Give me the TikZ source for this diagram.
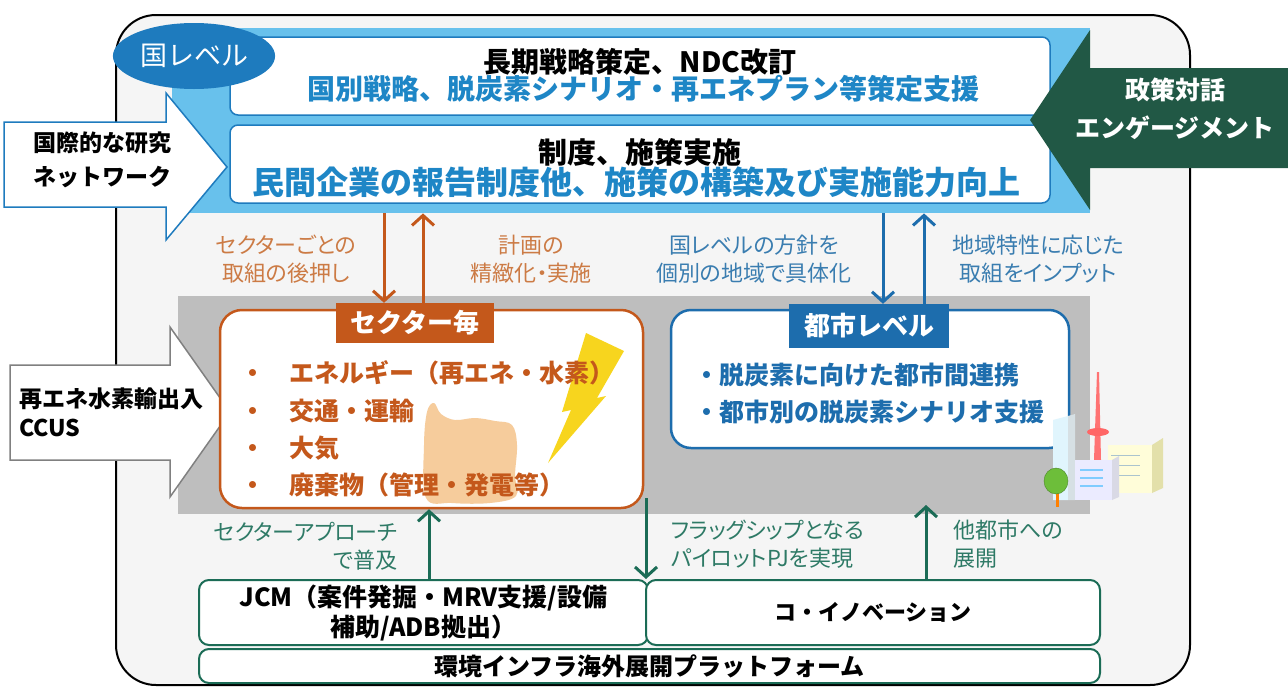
\documentclass[tikz,border=0pt]{standalone}
\usepackage{fontspec}
\setmainfont{Noto Sans CJK JP}
\newfontfamily\lblfont{Noto Sans CJK JP}[RawFeature=+palt]
\usetikzlibrary{arrows.meta,shapes.geometric}

\definecolor{framefill}{HTML}{F5F5F5}
\definecolor{bandblue}{HTML}{68C1EC}
\definecolor{lvlblue}{HTML}{1E7BBE}
\definecolor{txtblue}{HTML}{1E86C6}
\definecolor{cityblue}{HTML}{1D6DAD}
\definecolor{lblblue}{HTML}{3A7DB0}
\definecolor{secorange}{HTML}{C4581B}
\definecolor{lblorange}{HTML}{CC7B45}
\definecolor{dkgreen}{HTML}{215845}
\definecolor{tealgreen}{HTML}{1B6C56}
\definecolor{lblteal}{HTML}{2E7A66}
\definecolor{bandgray}{HTML}{BEBEBE}
\definecolor{smoke}{HTML}{F6CC9C}
\definecolor{bolt}{HTML}{F7D51E}
\definecolor{leaf}{HTML}{6DBE3A}

\newcommand\fsz[2]{\fontsize{#1}{#2}\selectfont}

\tikzset{
  panel/.style={draw=lvlblue, fill=white, line width=1.5pt, rounded corners=8pt},
  tag/.style={text=white, font=\bfseries\fsz{26}{26}, inner sep=0pt},
  lbl/.style={font=\lblfont\fsz{22}{28}, align=center, inner sep=0pt},
  oarr/.style={draw=secorange, line width=3pt, -{Straight Barb[length=10pt,width=22pt]}},
  barr/.style={draw=cityblue, line width=3pt, -{Straight Barb[length=10pt,width=22pt]}},
  garr/.style={draw=tealgreen, line width=3pt, -{Straight Barb[length=10pt,width=22pt]}},
  gbox/.style={draw=tealgreen, fill=white, line width=2pt, rounded corners=10pt,
               font=\bfseries, inner sep=0pt}
}

\begin{document}
\begin{tikzpicture}[x=1pt,y=-1pt]
\useasboundingbox (0,0) rectangle (1288,686);
\draw[line width=2pt, fill=framefill, rounded corners=40pt] (116,15) rectangle (1190,685);

% national level
\node[fill=bandblue, minimum width=918, minimum height=185, inner sep=0, anchor=north west] (band) at (172,28) {};
\node[panel, minimum width=820, minimum height=78] (plan) at (640,76) {};
\node[panel, minimum width=820, minimum height=78] (impl) at (640,164) {};
\node[font=\bfseries\fsz{28}{28}, inner sep=0] (plan1) at (640,62) {長期戦略策定、NDC改訂};
\node[font=\bfseries\fsz{28}{28}, text=txtblue, inner sep=0] (plan2) at (643,89) {国別戦略、脱炭素シナリオ・再エネプラン等策定支援};
\node[font=\bfseries\fsz{29}{29}, inner sep=0] (impl1) at (640,152) {制度、施策実施};
\node[font=\bfseries\fsz{32}{32}, text=txtblue, inner sep=0] (impl2) at (636,182) {民間企業の報告制度他、施策の構築及び実施能力向上};
\node[ellipse, fill=lvlblue, minimum width=152, minimum height=66, text=white, font=\fsz{27}{27}] (lvl) at (194,56) {国レベル};

% side arrows
\draw[draw=lvlblue, fill=white, line width=1.5pt] (4,122) -- (166,122) -- (166,93) -- (227,167) -- (166,240) -- (166,207) -- (4,207) -- cycle;
\node[font=\bfseries\fsz{23}{34}, align=left, anchor=west, inner sep=0] (net) at (33,160) {国際的な研究\\ネットワーク};
\fill[dkgreen] (1288,68) -- (1090,68) -- (1090,30) -- (1030,120) -- (1090,210) -- (1090,168) -- (1288,168) -- cycle;
\node[font=\bfseries\fsz{25}{38}, text=white, align=center, inner sep=0] (dial) at (1175,109) {政策対話\\エンゲージメント};

% sector and city level
\node[fill=bandgray, minimum width=912, minimum height=218, inner sep=0, anchor=north west] (grey) at (178,296) {};
\draw[draw=gray, fill=white, line width=1.5pt] (10,365) -- (170,365) -- (170,327) -- (230,412) -- (170,497) -- (170,460) -- (10,460) -- cycle;
\node[font=\bfseries\fsz{23}{29}, align=left, anchor=west, inner sep=0] (h2) at (19,412) {再エネ水素輸出入\\CCUS};
\node[draw=secorange, fill=white, line width=2.5pt, rounded corners=22pt, minimum width=423, minimum height=198] (sect) at (431.5,409) {};
\fill[smoke] plot[smooth cycle, tension=0.6] coordinates {(426,498) (424,445) (427,412) (434,403) (441,414) (455,420) (475,418) (495,421) (512,425) (517,445) (515,475) (516,496) (490,503) (452,503)};
\fill[bolt] (586,333) -- (624,351) -- (597,398) -- (606,396) -- (548,463) -- (571,410) -- (562,412) -- cycle;
\node[fill=secorange, minimum width=158, minimum height=40, tag] (secttl) at (415,323) {セクター毎};
\node[font=\bfseries\fsz{25}{37.3}, text=secorange, align=left, anchor=west, inner sep=0] (secitems) at (240,429)
  {・\hspace{24pt}エネルギー（再エネ・水素）\\・\hspace{24pt}交通・運輸\\・\hspace{24pt}大気\\・\hspace{24pt}廃棄物（管理・発電等）};

\node[draw=cityblue, fill=white, line width=2.5pt, rounded corners=20pt, minimum width=398, minimum height=138] (city) at (870,379) {};
\node[fill=cityblue, minimum width=160, minimum height=44, tag] (cityttl) at (869,326) {都市レベル};
\node[font=\bfseries\fsz{25}{37}, text=cityblue, align=left, anchor=west, inner sep=0] (cityitems) at (694,393.5)
  {・脱炭素に向けた都市間連携\\・都市別の脱炭素シナリオ支援};

% buildings
\fill[fill=white!85!yellow] (1108,445) rectangle (1152,493);
\fill[fill=white!75!olive] (1152,445) -- (1163,438) -- (1163,488) -- (1152,493) -- cycle;
\draw[color=cyan!30!gray!60, line width=1pt] (1111,455) -- (1140,455) (1111,465) -- (1140,465) (1111,475) -- (1140,475);
\fill[color=red!55!white] (1097,372) -- (1099,372) -- (1101,460) -- (1094,460) -- cycle;
\fill[color=red!60!white] (1098,432) ellipse (11 and 4);
\fill[fill=cyan!12!white] (1053,420) -- (1068,416) -- (1068,500) -- (1053,500) -- cycle;
\fill[fill=cyan!22!gray!30] (1068,416) -- (1075,414) -- (1075,500) -- (1068,500) -- cycle;
\fill[fill=blue!8!white] (1075,460) rectangle (1112,500);
\fill[fill=blue!18!gray!25] (1112,460) -- (1119,456) -- (1119,497) -- (1112,500) -- cycle;
\draw[color=blue!40!cyan!50, line width=1.2pt] (1080,470) -- (1103,470) (1080,478) -- (1103,478) (1080,486) -- (1103,486);
\draw[color=orange, line width=3pt] (1057,488) -- (1057,507);
\fill[fill=leaf, draw=leaf!70!black] (1056,481) ellipse (12 and 13);

% arrows between the levels
\coordinate (o1) at (384,0);
\coordinate (o2) at (423,0);
\coordinate (b1) at (883,0);
\coordinate (b2) at (924,0);
\draw[oarr] (band.south -| o1) -- (secttl.north -| o1);
\draw[oarr] (secttl.north -| o2) -- (band.south -| o2);
\draw[barr] (band.south -| b1) -- (cityttl.north -| b1);
\draw[barr] (cityttl.north -| b2) -- (band.south -| b2);
\node[lbl, text=lblorange] (push) at (286,259) {セクターごとの\\取組の後押し};
\node[lbl, text=lblorange] (refine) at (531,259) {計画の\\精緻化・実施};
\node[lbl, text=lblblue] (concr) at (754,259) {国レベルの方針を\\個別の地域で具体化};
\node[lbl, text=lblblue] (input) at (1038,259) {地域特性に応じた\\取組をインプット};

% bottom programmes
\node[gbox, minimum width=449, minimum height=65, align=center, font=\bfseries\fsz{25}{30}] (jcm) at (423.5,612.5) {JCM（案件発掘・MRV支援/設備\\補助/ADB拠出）};
\node[gbox, minimum width=454, minimum height=65, font=\bfseries\fsz{22}{22}] (coinno) at (873,612.5) {コ・イノベーション};
\node[gbox, minimum width=901, minimum height=34, font=\bfseries\fsz{24}{24}] (pf) at (649.5,666) {環境インフラ海外展開プラットフォーム};
\coordinate (g1) at (429,0);
\coordinate (pilot) at (646,498);
\coordinate (spread) at (926,505);
\draw[garr] (jcm.north -| g1) -- (sect.south -| g1);
\draw[garr] (pilot) -- (coinno.north -| pilot);
\draw[garr] (coinno.north -| spread) -- (spread);
\node[lbl, text=lblteal, align=right, anchor=east] (sectap) at (398,546) {セクターアプローチ\\で普及};
\node[lbl, text=lblteal, align=left, anchor=west] (flag) at (671,544) {フラッグシップとなる\\パイロットPJを実現};
\node[lbl, text=lblteal, align=left, anchor=west] (other) at (953,544) {他都市への\\展開};
\end{tikzpicture}
\end{document}
